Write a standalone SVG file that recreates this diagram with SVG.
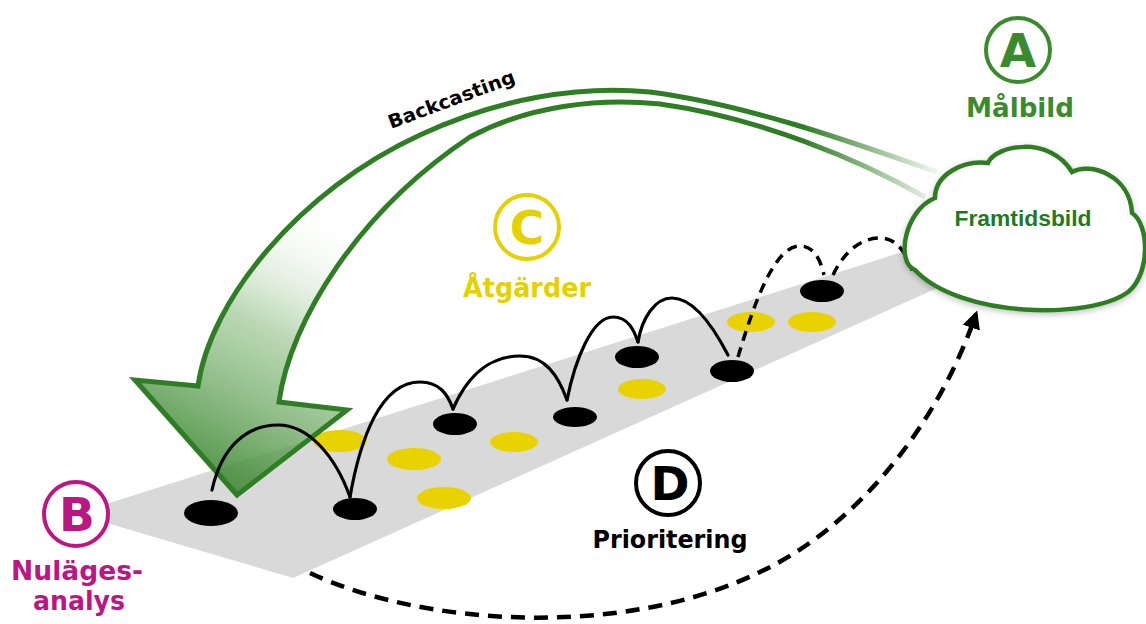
<svg xmlns="http://www.w3.org/2000/svg" width="1146" height="624" viewBox="0 0 1146 624">
<defs>
<style>
.lbl{font-family:"DejaVu Sans","Liberation Sans",sans-serif;font-weight:bold;text-anchor:middle}
.hole{fill:#000}
.coin{fill:#e8d300}
.jump{fill:none;stroke:#000;stroke-width:3.2;stroke-linecap:round}
.jumpd{fill:none;stroke:#000;stroke-width:3.5;stroke-dasharray:10 7}
.ring{fill:#fff;stroke-width:4}
</style>
<linearGradient id="fillG" gradientUnits="userSpaceOnUse" x1="345" y1="215" x2="205" y2="480">
<stop offset="0" stop-color="#ffffff" stop-opacity="0"/>
<stop offset="0.45" stop-color="#8fbf84" stop-opacity="0.6"/>
<stop offset="1" stop-color="#3b8731" stop-opacity="0.9"/>
</linearGradient>
<linearGradient id="strokeG" gradientUnits="userSpaceOnUse" x1="0" y1="0" x2="1146" y2="0">
<stop offset="0" stop-color="#2f7d24"/>
<stop offset="0.70" stop-color="#2f7d24"/>
<stop offset="0.815" stop-color="#2f7d24" stop-opacity="0.08"/>
</linearGradient>
<filter id="shadow" x="-10%" y="-10%" width="120%" height="130%">
<feDropShadow dx="0" dy="2" stdDeviation="3" flood-color="#000" flood-opacity="0.25"/>
</filter>
<marker id="ah" viewBox="0 0 10 10" refX="8" refY="5" markerWidth="4" markerHeight="4" orient="auto" markerUnits="strokeWidth">
<path d="M0,0 L10,5 L0,10 Z" fill="#000"/>
</marker>
</defs>

<g id="band">
<polygon points="100,506 100,521 293,578 975,271 975,229" fill="#d9d9d9"/>
</g>

<g id="actions">
<ellipse class="coin" cx="340" cy="441" rx="27" ry="11"/>
<ellipse class="coin" cx="414" cy="459" rx="27" ry="11"/>
<ellipse class="coin" cx="444" cy="498" rx="27" ry="11"/>
<ellipse class="coin" cx="514" cy="442" rx="24" ry="10"/>
<ellipse class="coin" cx="642" cy="389" rx="24" ry="10"/>
<ellipse class="coin" cx="751" cy="322" rx="24" ry="10"/>
<ellipse class="coin" cx="812" cy="322" rx="24" ry="10"/>
</g>

<g id="steps">
<ellipse class="hole" cx="211" cy="513" rx="27" ry="13"/>
<ellipse class="hole" cx="355" cy="509" rx="22" ry="11"/>
<ellipse class="hole" cx="455" cy="424" rx="22" ry="11"/>
<ellipse class="hole" cx="575" cy="417" rx="22" ry="10"/>
<ellipse class="hole" cx="637" cy="357" rx="22" ry="11"/>
<ellipse class="hole" cx="732" cy="371" rx="22" ry="11"/>
<ellipse class="hole" cx="822" cy="291" rx="22" ry="11"/>
</g>

<g id="backcasting-arrow">
<path d="M937,172 C860,145 750,105 650,92 C580,85 500,98 420,135 C300,190 210,300 198,386 L135,380 L237,495 L347,410 L279,402 C290,320 360,210 470,137 C530,105 600,98 660,104 C760,118 860,160 925,197 Z" fill="url(#fillG)" stroke="none"/>
<path d="M937,172 C860,145 750,105 650,92 C580,85 500,98 420,135 C300,190 210,300 198,386 L135,380 L237,495 L347,410 L279,402 C290,320 360,210 470,137 C530,105 600,98 660,104 C760,118 860,160 925,197" fill="none" stroke="url(#strokeG)" stroke-width="5" stroke-linejoin="miter"/>
<text x="0" y="0" font-family="DejaVu Sans, Liberation Sans, sans-serif" font-weight="bold" font-size="19" fill="#000" transform="translate(391,129) rotate(-20.5)" textLength="134" lengthAdjust="spacingAndGlyphs">Backcasting</text>
</g>

<g id="connectors">
<path class="jump" d="M212,490 C222,445 248,425 278,425 C308,425 335,455 350,497"/>
<path class="jump" d="M350,497 C360,440 380,382 420,382 C440,382 448,395 453,409"/>
<path class="jump" d="M453,409 C470,370 495,356 520,356 C545,356 558,375 567,400"/>
<path class="jump" d="M567,400 C575,360 592,317 613,317 C628,317 634,330 638,342"/>
<path class="jump" d="M638,342 C642,318 655,298 672,298 C695,298 715,330 728,355"/>
<path class="jumpd" d="M738,357 C755,300 775,246 800,246 C815,246 821,262 824,275"/>
<path class="jumpd" d="M833,275 C845,250 862,238 880,238 C898,238 907,255 913,273"/>
<path d="M310,573 C420,625 620,640 760,572 C860,525 940,420 976,314" fill="none" stroke="#000" stroke-width="4.5" stroke-dasharray="14 9" marker-end="url(#ah)"/>
</g>

<g id="cloud">
<path d="M915,270 C895,262 905,210 935,198 C935,175 962,160 988,163 C995,145 1050,135 1072,172 C1090,162 1130,175 1132,213 C1150,225 1150,275 1128,292 C1090,320 960,318 915,270 Z" fill="#fff" stroke="#2f7d24" stroke-width="4.5" filter="url(#shadow)"/>
<text x="1023" y="226" font-family="Liberation Sans, Arial, sans-serif" font-weight="bold" font-size="22" fill="#1f7a1f" text-anchor="middle" textLength="137" lengthAdjust="spacingAndGlyphs">Framtidsbild</text>
</g>

<g id="nodeA">
<circle class="ring" cx="1018" cy="50" r="32" stroke="#3a8a2e"/>
<text class="lbl" x="1018" y="67" font-size="47" fill="#3a8a2e">A</text>
<text class="lbl" x="1020" y="117" font-size="27" fill="#3a8a2e" textLength="108" lengthAdjust="spacingAndGlyphs">Målbild</text>
</g>

<g id="nodeB">
<circle class="ring" cx="76" cy="514" r="32" stroke="#bc1682"/>
<text class="lbl" x="77" y="531" font-size="47" fill="#bc1682">B</text>
<text class="lbl" x="77" y="580" font-size="26" fill="#bc1682" textLength="132" lengthAdjust="spacingAndGlyphs">Nuläges-</text>
<text class="lbl" x="79" y="610" font-size="26" fill="#bc1682" textLength="92" lengthAdjust="spacingAndGlyphs">analys</text>
</g>

<g id="nodeC">
<circle class="ring" cx="527" cy="227" r="32" stroke="#e5d000"/>
<text class="lbl" x="527" y="244" font-size="47" fill="#e5d000">C</text>
<text class="lbl" x="527" y="297" font-size="27" fill="#e5d000" textLength="128" lengthAdjust="spacingAndGlyphs">Åtgärder</text>
</g>

<g id="nodeD">
<circle class="ring" cx="668" cy="483" r="32" stroke="#000"/>
<text class="lbl" x="670" y="500" font-size="47" fill="#000">D</text>
<text class="lbl" x="670" y="548" font-size="24" fill="#000" textLength="155" lengthAdjust="spacingAndGlyphs">Prioritering</text>
</g>
</svg>
